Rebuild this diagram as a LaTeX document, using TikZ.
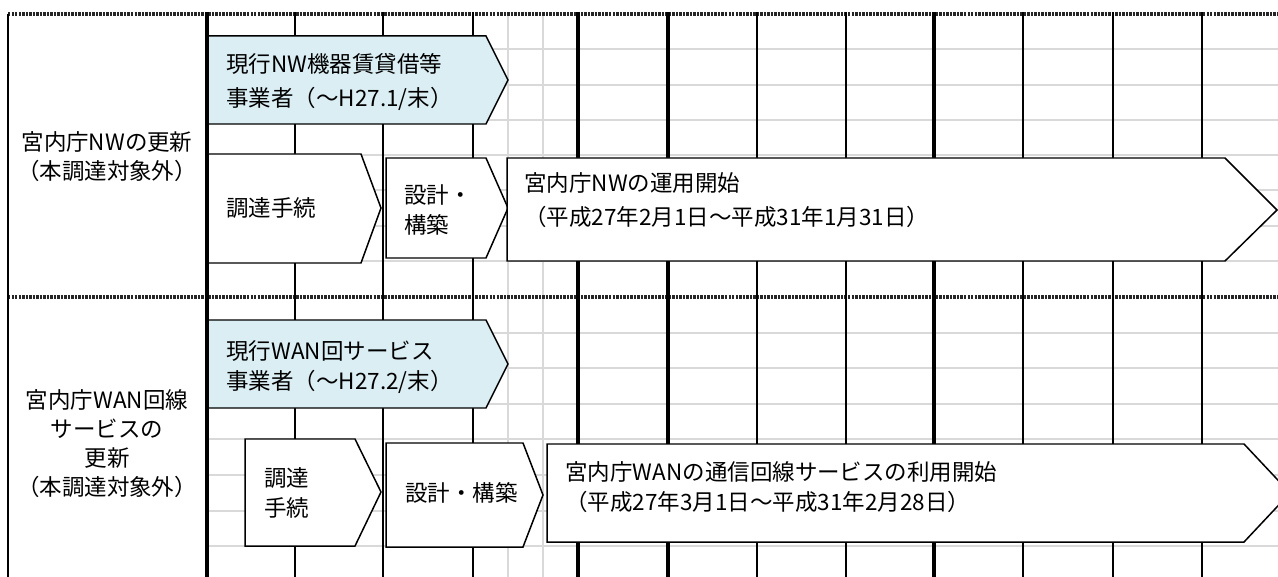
\documentclass[tikz,border=0pt]{standalone}
\usepackage{fontspec}
\setmainfont{Noto Sans CJK JP}

\definecolor{oldblue}{HTML}{DAEEF3}
\definecolor{gridgray}{HTML}{D9D9D9}

\tikzset{
	gridline/.style={draw=gridgray, line width=1.3pt},
	sepline/.style={draw=black!85, line width=1.8pt, dash pattern=on 1.4pt off 0.6pt},
	monthline/.style={draw=black, line width=1.1pt},
	yearline/.style={draw=black, line width=2.1pt},
	phase/.style={draw=black, line width=0.85pt, fill=white},
	oldphase/.style={phase, fill=oldblue},
	phasetext/.style={anchor=west, align=left, inner sep=0pt, font=\fontsize{12.8}{17}\selectfont},
	rowlabel/.style={align=center, inner sep=0pt, font=\fontsize{12.8}{16.5}\selectfont}
}

\begin{document}
\begin{tikzpicture}[x=0.2mm, y=-0.2mm]
			\useasboundingbox (0,0) rectangle (1278,577);
			\clip (0,0) rectangle (1278,577);
			
			% Light grid
			\foreach \y in {49,85,120,155,190,226,261,333,368,404,439,475,511,546}
				\draw[gridline] (207,\y) -- (1278,\y);
			\draw[gridline] (508,14) -- (508,577);
			\draw[gridline] (543,14) -- (543,577);
			
			% Row separators
			\draw[sepline] (8,14) -- (1278,14);
			\draw[sepline] (8,297) -- (1278,297);
			
			% Month columns
			\draw[draw=black, line width=0.8pt] (8,14) -- (8,577);
			\foreach \x in {295,383,473,757,846,1023,1113,1202}
				\draw[monthline] (\x,12) -- (\x,577);
			\foreach \x in {207,578,668,934}
				\draw[yearline] (\x,12) -- (\x,577);
			
			% Row labels
			\node[rowlabel] (nwlabel) at (107,157) {宮内庁NWの更新\\（本調達対象外）};
			\node[rowlabel] (wanlabel) at (107,444) {宮内庁WAN回線\\サービスの\\更新\\（本調達対象外）};
			
			% NW row
			\draw[oldphase] (208,36) -- (486,36) -- (508,80) -- (486,124) -- (208,124) -- cycle;
			\node[phasetext, font=\fontsize{12.8}{19.8}\selectfont] (nwold) at (226,82) {現行NW機器賃貸借等\\事業者（～H27.1/末）};
			
			\draw[phase] (208,154) -- (361,154) -- (381,208) -- (361,263) -- (208,263) -- cycle;
			\node[phasetext] (nwproc) at (226,208) {調達手続};
			
			\draw[phase] (386,158) -- (486,158) -- (508,208) -- (486,258) -- (386,258) -- cycle;
			\node[phasetext] (nwbuild) at (404,210) {設計・\\構築};
			
			\draw[phase] (507,158) -- (1225,158) -- (1277,210) -- (1225,261) -- (507,261) -- cycle;
			\node[phasetext, font=\fontsize{12.8}{19.3}\selectfont] (nwops) at (524,200) {宮内庁NWの運用開始\\（平成27年2月1日～平成31年1月31日）};
			
			% WAN row
			\draw[oldphase] (208,320) -- (486,320) -- (508,364) -- (486,408) -- (208,408) -- cycle;
			\node[phasetext] (wanold) at (226,367) {現行WAN回サービス\\事業者（～H27.2/末）};
			
			\draw[phase] (245,439) -- (355,439) -- (381,492) -- (355,546) -- (245,546) -- cycle;
			\node[phasetext] (wanproc) at (264,493) {調達\\手続};
			
			\draw[phase] (386,443) -- (523,443) -- (543,495) -- (523,547) -- (386,547) -- cycle;
			\node[phasetext] (wanbuild) at (405,493) {設計・構築};
			
			\draw[phase] (547,444) -- (1244,444) -- (1290,493) -- (1244,542) -- (547,542) -- cycle;
			\node[phasetext] (wanops) at (565,487) {宮内庁WANの通信回線サービスの利用開始\\（平成27年3月1日～平成31年2月28日）};
\end{tikzpicture}
\end{document}
